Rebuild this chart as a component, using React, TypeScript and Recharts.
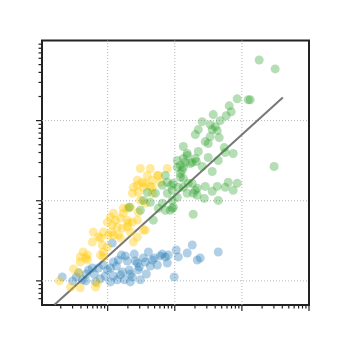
import { ScatterChart, Scatter, XAxis, YAxis, ReferenceLine, ReferenceArea } from 'recharts';

// [x, y] pairs, log-log
const blue = [
  [0.21, 1.12], [0.3, 1.0], [0.34, 1.12], [0.37, 1.26], [0.42, 1.03], [0.48, 1.22],
  [0.52, 1.37], [0.59, 1.45], [0.63, 1.22], [0.73, 1.45], [0.78, 1.06], [0.86, 1.58],
  [0.92, 1.15], [0.99, 1.37], [1.17, 2.96], [1.22, 1.72], [1.22, 1.15], [1.35, 1.53],
  [1.39, 1.03], [1.44, 1.82], [1.6, 2.1], [1.66, 1.29], [1.77, 1.03], [1.83, 2.05],
  [1.96, 1.77], [2.1, 1.37], [2.18, 1.22], [2.33, 1.12], [2.49, 2.16], [2.58, 1.77],
  [2.77, 1.67], [2.96, 1.49], [3.07, 1.03], [3.4, 1.93], [3.64, 1.72], [3.77, 1.22],
  [4.04, 2.29], [4.62, 1.82], [4.95, 1.93], [6.08, 2.05], [6.52, 2.16], [7.23, 1.99],
  [7.73, 1.67], [8.0, 2.1], [9.8, 1.12], [10.5, 2.43], [11.3, 1.99], [15.3, 2.23],
  [18.2, 2.8], [21.6, 1.82], [23.9, 1.93], [44.4, 2.29], [2.18, 0.97], [1.1, 0.97],
  [0.66, 0.97], [2.86, 1.37], [4.32, 1.53], [1.55, 1.19], [5.5, 1.58], [1.1, 1.45],
  [0.47, 1.0],
];

const yellow = [
  [3.07, 25.3], [3.9, 20.7], [2.77, 18.0], [3.28, 17.0], [2.41, 14.7], [2.33, 12.4],
  [3.4, 14.7], [7.73, 25.3], [5.5, 20.7], [4.62, 12.4], [3.07, 10.1], [2.18, 8.3],
  [2.86, 7.19], [3.64, 9.31], [1.71, 7.0], [1.96, 5.72], [2.33, 5.41], [2.77, 5.72],
  [3.4, 4.3], [1.22, 7.0], [1.1, 6.24], [1.3, 5.72], [1.55, 6.06], [0.99, 5.41],
  [1.17, 4.96], [1.39, 4.69], [1.66, 4.55], [1.96, 4.69], [2.18, 4.06], [2.77, 3.52],
  [2.41, 3.05], [0.86, 4.06], [1.02, 3.73], [1.22, 3.73], [1.55, 3.42], [0.61, 4.06],
  [0.73, 3.52], [0.59, 3.05], [0.83, 2.8], [0.99, 2.64], [0.86, 2.29], [0.78, 2.1],
  [0.43, 2.29], [0.39, 1.72], [0.47, 1.93], [0.5, 1.82], [0.31, 1.41], [0.37, 1.26],
  [0.19, 1.0], [0.39, 0.82], [0.7, 0.94], [0.66, 0.84], [1.44, 3.73], [0.5, 2.1],
  [0.39, 1.99], [0.86, 1.99], [0.28, 0.84], [4.32, 25.3], [5.68, 20.7], [4.62, 18.0],
  [3.64, 16.5], [2.86, 12.7], [1.96, 8.07], [2.03, 5.25], [3.64, 4.3], [4.62, 14.7],
  [6.08, 17.0], [1.71, 8.07], [1.14, 4.06], [2.77, 15.6], [0.78, 3.42], [4.32, 15.1],
];

const green = [
  [181, 571], [313, 442], [85.1, 187], [124, 182], [133, 182], [64.7, 153],
  [69.2, 129], [58.3, 115], [37.4, 119], [47.5, 100], [25.6, 97.1], [33.7, 89.1],
  [40.1, 84.1], [22.4, 77.3], [36.1, 77.3], [42.9, 75.0], [20.2, 66.9], [33.7, 63.2],
  [45.9, 61.4], [28.4, 54.8], [31.5, 51.8], [13.4, 47.5], [54.5, 46.1], [15.3, 38.9],
  [22.4, 41.2], [74.1, 38.9], [31.5, 34.7], [13.4, 33.7], [17.0, 29.2], [12.1, 27.6],
  [25.6, 26.8], [44.4, 31.8], [36.1, 23.2], [302, 26.8], [12.9, 23.9], [13.4, 19.0],
  [14.3, 30.1], [20.9, 30.9], [56.4, 40.0], [12.1, 19.6], [9.5, 16.5], [13.4, 14.7],
  [18.2, 16.5], [21.6, 14.3], [18.8, 12.4], [28.4, 15.1], [36.1, 13.1], [42.9, 15.1],
  [56.4, 14.7], [62.5, 17.0], [74.1, 13.5], [85.1, 16.5], [27.5, 10.7], [44.4, 10.1],
  [9.5, 8.3], [18.8, 6.79], [7.23, 20.7], [6.52, 15.6], [7.73, 17.0], [3.9, 12.7],
  [5.13, 12.4], [7.73, 12.4], [9.18, 13.5], [3.4, 10.1], [4.32, 9.58], [3.07, 7.62],
  [5.68, 8.07], [7.23, 7.62], [9.18, 8.07], [9.18, 10.1], [4.79, 5.72], [10.9, 31.8],
  [13.4, 26.1], [15.3, 36.7], [18.2, 30.1], [20.2, 33.7], [20.2, 13.5], [15.9, 16.5],
  [15.3, 12.4], [11.3, 14.7], [21.6, 11.7], [12.1, 21.9], [10.9, 26.1], [8.87, 15.6],
  [6.52, 9.31], [10.9, 11.0], [2.1, 8.3], [8.57, 7.62],
];

// fitted trend line endpoints
const fitX = [0.161, 407];
const fitY = [0.503, 194];

const xTicks = [
  0.2, 0.3, 0.4, 0.5, 0.6, 0.7, 0.8, 0.9, 1, 2, 3, 4, 5, 6, 7, 8, 9, 10,
  20, 30, 40, 50, 60, 70, 80, 90, 100, 200, 300, 400, 500, 600, 700, 800, 900, 1000,
];
const yTicks = [
  0.6, 0.7, 0.8, 0.9, 1, 2, 3, 4, 5, 6, 7, 8, 9, 10, 20, 30, 40, 50, 60, 70, 80, 90,
  100, 200, 300, 400, 500, 600, 700, 800, 900,
];
const gridVals = [1, 10, 100];

const X_DOMAIN = [0.105, 1000];
const Y_DOMAIN = [0.5, 1000];

const W = 320;
const H = 320;
const AXIS = 10;
const margin = { top: 32.5, right: 19, bottom: 23 - AXIS, left: 34 - AXIS };
const plotLeft = 34;
const plotBottom = H - 23;

const isMajor = (v: number) => [0.1, 1, 10, 100, 1000].includes(v);

const toPoints = (arr: number[][]) => arr.map(([x, y]) => ({ x, y }));

const dot = (color: string, op: number) => (p: any) => (
  <circle cx={p.cx} cy={p.cy} r={4.5} fill={color} fillOpacity={op} stroke="none" />
);

const YTick = (p: any) => {
  const len = isMajor(p.payload.value) ? 6 : 3.5;
  return (
    <g>
      <line x1={plotLeft - len} x2={plotLeft} y1={p.y} y2={p.y} stroke="#222" strokeWidth={1.2} />
    </g>
  );
};

const XTick = (p: any) => {
  const len = isMajor(p.payload.value) ? 6 : 3.5;
  return (
    <g>
      <line x1={p.x} x2={p.x} y1={plotBottom} y2={plotBottom + len} stroke="#222" strokeWidth={1.2} />
    </g>
  );
};

export default function App() {
  return (
    <ScatterChart width={W} height={H} margin={margin}>
      <XAxis
        type="number"
        dataKey="x"
        scale="log"
        domain={X_DOMAIN}
        ticks={xTicks}
        interval={0}
        height={AXIS}
        axisLine={false}
        tickLine={false}
        tick={XTick}
      />
      <YAxis
        type="number"
        dataKey="y"
        scale="log"
        domain={Y_DOMAIN}
        ticks={yTicks}
        interval={0}
        width={AXIS}
        axisLine={false}
        tickLine={false}
        tick={YTick}
      />
      {gridVals.map((v) => (
        <ReferenceLine key={`gx${v}`} x={v} stroke="#b5b5b5" strokeDasharray="1 2" />
      ))}
      {gridVals.map((v) => (
        <ReferenceLine key={`gy${v}`} y={v} stroke="#b5b5b5" strokeDasharray="1 2" />
      ))}
      <Scatter data={toPoints(blue)} shape={dot('#1f77b4', 0.35)} isAnimationActive={false} />
      <Scatter data={toPoints(yellow)} shape={dot('#ffc800', 0.38)} isAnimationActive={false} />
      <Scatter data={toPoints(green)} shape={dot('#2ca02c', 0.35)} isAnimationActive={false} />
      <ReferenceLine
        segment={[{ x: fitX[0], y: fitY[0] }, { x: fitX[1], y: fitY[1] }]}
        stroke="#777"
        strokeWidth={2}
        ifOverflow="visible"
      />
      <ReferenceArea
        x1={X_DOMAIN[0]}
        x2={X_DOMAIN[1]}
        y1={Y_DOMAIN[0]}
        y2={Y_DOMAIN[1]}
        fill="none"
        stroke="#222"
        strokeWidth={2}
        ifOverflow="visible"
      />
    </ScatterChart>
  );
}
